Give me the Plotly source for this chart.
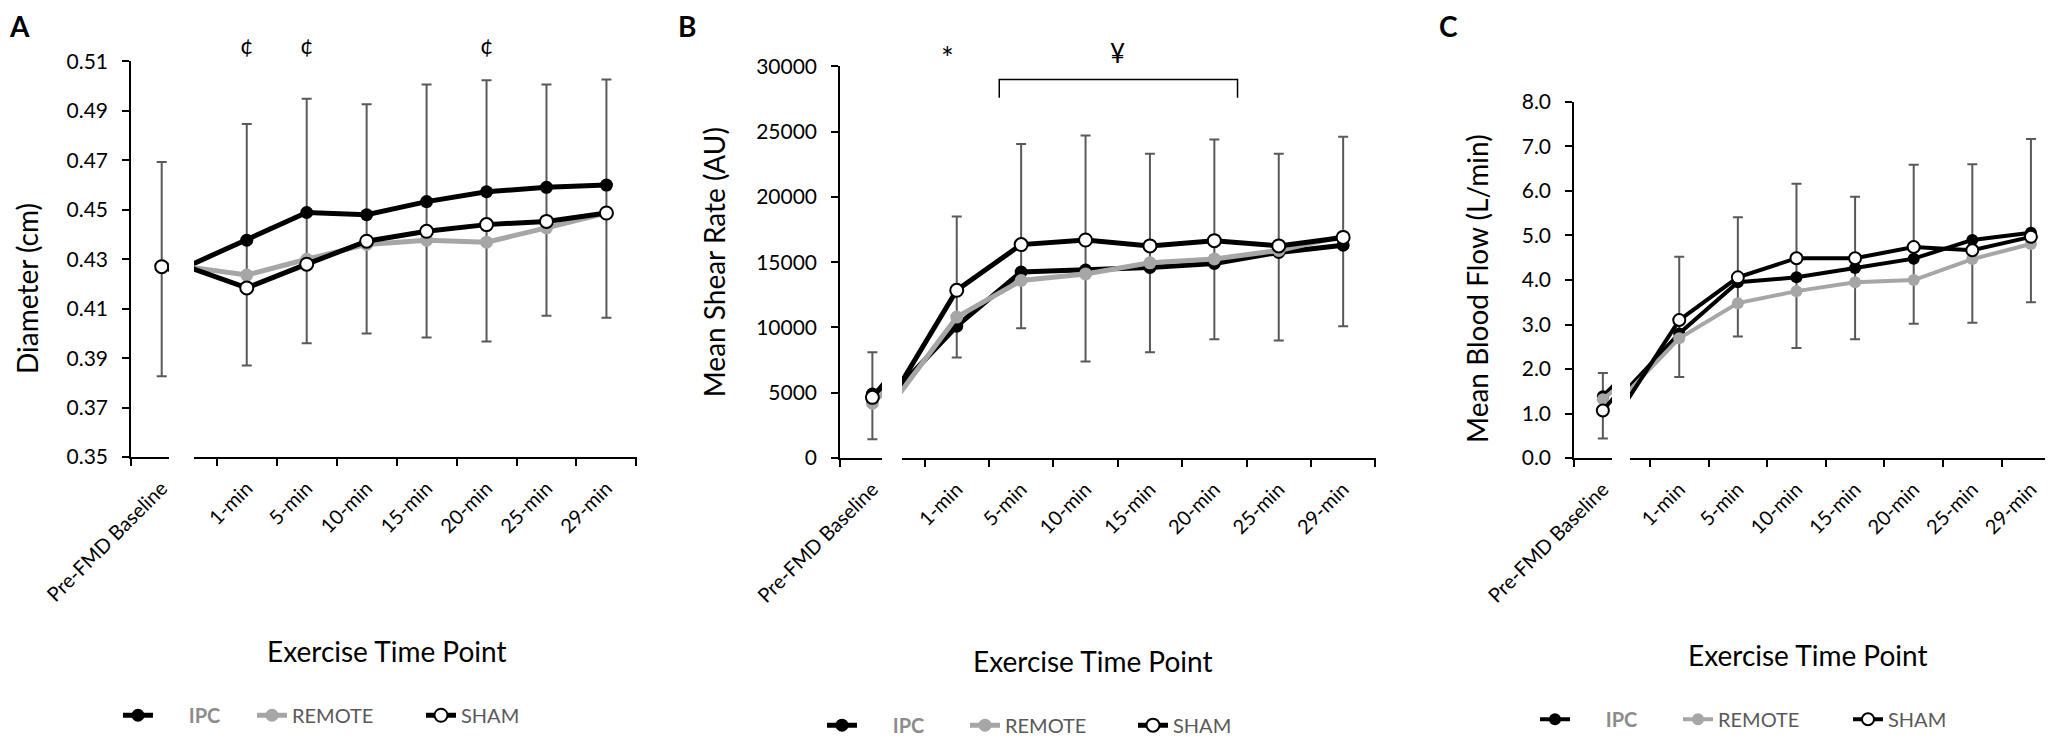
import plotly.graph_objects as go

# categories on the x axis
cats = ["Pre-FMD Baseline", "1-min", "5-min", "10-min", "15-min", "20-min", "25-min", "29-min"]

# panel A: diameter (cm)
a_ipc = [0.427, 0.4377, 0.4489, 0.448, 0.4533, 0.4573, 0.4591, 0.460]
a_remote = [0.427, 0.4236, 0.430, 0.436, 0.4377, 0.4369, 0.4427, 0.4487]
a_sham = [0.427, 0.4184, 0.428, 0.4373, 0.4413, 0.444, 0.4453, 0.4487]
a_err_hi = [0.4693, 0.4847, 0.4949, 0.4927, 0.5007, 0.5024, 0.5007, 0.5027]
a_err_lo = [0.3827, 0.387, 0.396, 0.400, 0.3984, 0.3967, 0.4071, 0.4063]

# panel B: mean shear rate (AU)
b_ipc = [4900, 10100, 14250, 14400, 14600, 14900, 15750, 16300]
b_remote = [4200, 10800, 13600, 14100, 14950, 15250, 15900, 17000]
b_sham = [4650, 12850, 16350, 16700, 16250, 16650, 16250, 16900]
b_err_hi = [8100, 18500, 24050, 24700, 23300, 24400, 23300, 24600]
b_err_lo = [1450, 7700, 9950, 7400, 8100, 9100, 9000, 10100]

# panel C: mean blood flow (L/min)
c_ipc = [1.39, 2.80, 3.95, 4.06, 4.27, 4.48, 4.90, 5.06]
c_remote = [1.32, 2.69, 3.48, 3.75, 3.95, 4.00, 4.47, 4.81]
c_sham = [1.07, 3.10, 4.06, 4.49, 4.49, 4.74, 4.67, 4.97]
c_err_hi = [1.91, 4.52, 5.41, 6.16, 5.87, 6.59, 6.60, 7.17]
c_err_lo = [0.44, 1.82, 2.73, 2.47, 2.67, 3.02, 3.04, 3.50]

series_names = ["\u00a0" * 6 + "<b>IPC</b>", "REMOTE", "SHAM"]
legend_colors = ["#8c8c8c", "#595959", "#595959"]

# the page body has an 8px margin, so the figure is drawn 16px smaller
# and every position below is given in window pixels, shifted by 8
PAGE_W, PAGE_H = 2053, 753
OFF = 8
W, H = PAGE_W - 2 * OFF, PAGE_H - 2 * OFF
FONT = "Lato"
GRAY = "#A6A6A6"
TXT = "black"


def px(x):
    return min(1.0, max(0.0, (x - OFF) / W))


def py(y):
    return min(1.0, max(0.0, 1 - (y - OFF) / H))


panels = [
    dict(letter="A", ipc=a_ipc, remote=a_remote, sham=a_sham, hi=a_err_hi, lo=a_err_lo,
         base=(131, 169), main=(194, 637), top=62, bottom=462,
         yrange=[0.35, 0.51], dtick=0.02, fmt=".2f",
         xbase=[-0.505, 0.12], xmain=[0.12, 7.51],
         ytitle="Diameter (cm)", ytitle_xy=(27, 292), letter_xy=(19, 26),
         xtitle_xy=(387, 658), legend_x=(140, 274, 443), legend_y=723, lw=5, ms=13),
    dict(letter="B", ipc=b_ipc, remote=b_remote, sham=b_sham, hi=b_err_hi, lo=b_err_lo,
         base=(840, 882), main=(902, 1376), top=67, bottom=463,
         yrange=[0, 30000], dtick=5000, fmt="d",
         xbase=[-0.505, 0.15], xmain=[0.15, 7.51],
         ytitle="Mean Shear Rate (AU)", ytitle_xy=(714, 265), letter_xy=(687, 26),
         xtitle_xy=(1093, 668), legend_x=(844, 987, 1155), legend_y=733, lw=5, ms=13),
    dict(letter="C", ipc=c_ipc, remote=c_remote, sham=c_sham, hi=c_err_hi, lo=c_err_lo,
         base=(1574, 1612), main=(1630, 2045), top=103, bottom=463,
         yrange=[0, 8], dtick=1, fmt=".1f",
         xbase=[-0.505, 0.16], xmain=[0.16, 7.24],
         ytitle="Mean Blood Flow (L/min)", ytitle_xy=(1477, 292), letter_xy=(1448, 26),
         xtitle_xy=(1808, 662), legend_x=(1557, 1700, 1870), legend_y=727, lw=4, ms=12),
]

fig = go.Figure()
layout = dict(
    width=W, height=H, margin=dict(l=0, r=0, t=0, b=0),
    paper_bgcolor="white", plot_bgcolor="white", template="none",
    font=dict(family=FONT, color=TXT), showlegend=True,
    annotations=[], shapes=[],
)


def note(text, x, y, size, xref="paper", **kw):
    return dict(text=text, x=x, y=y, xref=xref, yref="paper", showarrow=False,
                xanchor="center", yanchor="middle", font=dict(size=size, color=TXT), **kw)


leg_no = 0
for i, p in enumerate(panels):
    for j, part in enumerate(["base", "main"]):
        n = 2 * i + j + 1
        xa = "x" if n == 1 else "x%d" % n
        ya = "y" if n == 1 else "y%d" % n

        # error bars (drawn first, under the lines)
        fig.add_trace(go.Scatter(
            x=cats, y=p["ipc"], mode="markers", xaxis=xa, yaxis=ya,
            marker=dict(size=1, color="rgba(0,0,0,0)"),
            error_y=dict(type="data", symmetric=False,
                         array=[h - c for h, c in zip(p["hi"], p["ipc"])],
                         arrayminus=[c - l for c, l in zip(p["ipc"], p["lo"])],
                         color="#595959", thickness=2, width=5),
            showlegend=False, hoverinfo="skip"))

        styles = [
            (p["ipc"], "black", dict(color="black", size=p["ms"])),
            (p["remote"], GRAY, dict(color=GRAY, size=p["ms"])),
            (p["sham"], "black", dict(color="white", size=p["ms"],
                                      line=dict(color="black", width=2))),
        ]
        for k, ((vals, lc, mk), name) in enumerate(zip(styles, series_names)):
            tr = dict(x=cats, y=vals, mode="lines+markers", name=name,
                      xaxis=xa, yaxis=ya, line=dict(color=lc, width=p["lw"]),
                      marker=mk, showlegend=False)
            if part == "main":
                # one legend per entry so each entry sits where the original has it
                leg_no += 1
                lname = "legend" if leg_no == 1 else "legend%d" % leg_no
                tr.update(showlegend=True, legend=lname)
                layout[lname] = dict(
                    orientation="h", x=px(p["legend_x"][k] - 22), y=py(p["legend_y"]),
                    xanchor="left", yanchor="middle", bgcolor="rgba(0,0,0,0)",
                    borderwidth=0, font=dict(size=20, color=legend_colors[k]))
            fig.add_trace(go.Scatter(**tr))

        dom = p[part]
        xkey = "xaxis" if n == 1 else "xaxis%d" % n
        ykey = "yaxis" if n == 1 else "yaxis%d" % n
        layout[xkey] = dict(
            domain=[px(dom[0]), px(dom[1])], anchor=ya,
            type="category", categoryorder="array", categoryarray=cats,
            range=p["xbase"] if part == "base" else p["xmain"],
            tickson="boundaries", ticks="outside", ticklen=7, tickwidth=1.5,
            tickcolor="black", tickangle=-45, tickfont=dict(size=20, color=TXT),
            ticklabelstandoff=10,
            showline=True, linecolor="black", linewidth=1.5,
            showgrid=False, zeroline=False, fixedrange=True)
        layout[ykey] = dict(
            domain=[py(p["bottom"]), py(p["top"])], anchor=xa,
            range=p["yrange"], tickmode="linear", tick0=p["yrange"][0],
            dtick=p["dtick"], tickformat=p["fmt"],
            showgrid=False, zeroline=False, fixedrange=True,
            showline=part == "base", linecolor="black", linewidth=1.5,
            ticks="outside" if part == "base" else "", ticklen=7,
            tickwidth=1.5, tickcolor="black", ticklabelstandoff=10,
            showticklabels=part == "base", tickfont=dict(size=21, color=TXT))

    layout["annotations"] += [
        note("<b>%s</b>" % p["letter"], px(p["letter_xy"][0]), py(p["letter_xy"][1]), 28),
        note(p["ytitle"], px(p["ytitle_xy"][0]), py(p["ytitle_xy"][1]), 28, textangle=-90),
        note("Exercise Time Point", px(p["xtitle_xy"][0]), py(p["xtitle_xy"][1]), 28),
    ]

# significance marks, panel A
for c in ["1-min", "5-min", "20-min"]:
    layout["annotations"].append(note("\u00a2", c, py(45), 23, xref="x2"))

# significance marks, panel B
layout["annotations"] += [
    note("*", 0.86, py(58), 30, xref="x4"),
    note("\u00a5", 3.5, py(53), 26, xref="x4"),
]
layout["shapes"].append(dict(
    type="path", xref="x4", yref="y4", path="M 1.66 27600 L 1.66 29000 L 5.36 29000 L 5.36 27600",
    line=dict(color="black", width=1.5)))

fig.update_layout(**layout)
fig.write_html("out.html")
